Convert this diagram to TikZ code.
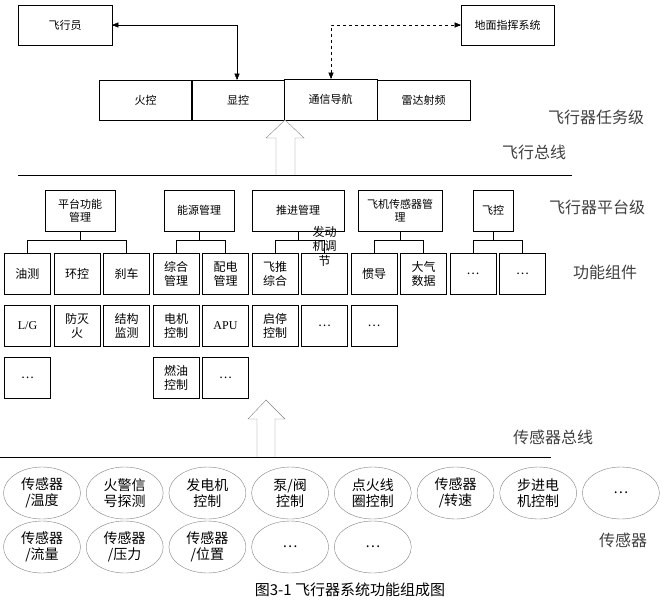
\documentclass[tikz,border=0pt]{standalone}
\usepackage{fontspec}
\setmainfont{Liberation Serif}
\newfontfamily\cjk{Noto Sans CJK SC}
\usetikzlibrary{arrows,shapes.geometric}

\begin{document}
\begin{tikzpicture}[x=1pt,y=-1pt,thick,font=\cjk\fontsize{11}{13}\selectfont]
		\tikzstyle{box}=[draw,thin,align=center,inner sep=1pt]
		\tikzstyle{comp}=[box,minimum width=46pt,minimum height=41pt,text width=40pt,font=\cjk\fontsize{12}{14}\selectfont]
		\tikzstyle{sens}=[ellipse,draw=gray,thin,minimum width=77pt,minimum height=52pt,align=center,inner sep=0pt,font=\cjk\fontsize{14}{16}\selectfont]
		\tikzstyle{lvl}=[font=\cjk\fontsize{16}{18}\selectfont,text=black!75]
		\tikzstyle{bigarrow}=[draw=gray,thin,fill=white]
		\tikzstyle{link}=[thin,>=triangle 45,<->]
		
		\useasboundingbox (0,0) rectangle (664,608);
		
		% task level
		\node[box,minimum width=94pt,minimum height=40pt] (pilot) at (65,25) {飞行员};
		\node[box,minimum width=93pt,minimum height=40pt] (ground) at (507.5,25) {地面指挥系统};
		\node[box,minimum width=93pt,minimum height=40pt] (fire) at (145.5,100) {火控};
		\node[box,minimum width=93pt,minimum height=40pt] (disp) at (238,100) {显控};
		\node[box,minimum width=93pt,minimum height=41pt] (comm) at (330.5,99.5) {通信导航};
		\node[box,minimum width=93pt,minimum height=40pt] (radar) at (423.5,100) {雷达射频};
		
		\coordinate (pk) at (237,25);
		\coordinate (gk) at (331,25);
		\draw[link] (pilot.east) -- (pk) -- (disp.north -| pk);
		\draw[link,dashed] (ground.west) -- (gk) -- (comm.north -| gk);
		
		\draw[bigarrow] (276,175) -- (276,138) -- (266,138) -- (285,120) -- (304,138) -- (295,138) -- (295,175);
		\draw[thin] (18,175) coordinate (bus1) -- (572,175);
		\node[lvl] (tasklvl) at (596,117) {飞行器任务级};
		\node[lvl] (flybus) at (534,152) {飞行总线};
		
		% platform level
		\node[box,minimum width=70pt,minimum height=41pt] (plat) at (80,210.5) {平台功能\\管理};
		\node[box,minimum width=70pt,minimum height=41pt] (power) at (199,210.5) {能源管理};
		\node[box,minimum width=92pt,minimum height=41pt] (prop) at (298,210.5) {推进管理};
		\node[box,minimum width=84pt,minimum height=41pt] (sensm) at (400,210.5) {飞机传感器管\\理};
		\node[box,minimum width=40pt,minimum height=41pt] (fctl) at (493,210.5) {飞控};
		\node[lvl] (platlvl) at (597,207) {飞行器平台级};
		\node[lvl] (funclvl) at (605,272) {功能组件};
		
		\foreach \i/\t in {0/油测,1/环控,2/刹车,3/综合\\管理,4/配电\\管理,5/飞推\\综合,6/\raisebox{9pt}[0pt][0pt]{\shortstack{发动\\机调\\节}},7/惯导,8/大气\\数据,9/\dots,10/\dots}
			\node[comp] (a\i) at (27.5+49.5*\i,274) {\t};
		\foreach \i/\t in {0/{\rmfamily L/G},1/防灭\\火,2/结构\\监测,3/电机\\控制,4/{\rmfamily APU},5/启停\\控制,6/\dots,7/\dots}
			\node[comp] (b\i) at (27.5+49.5*\i,326) {\t};
		\foreach \i/\t in {0/\dots,3/燃油\\控制,4/\dots}
			\node[comp] (c\i) at (27.5+49.5*\i,378) {\t};
		
		\foreach \p/\l/\r in {plat/a0/a2,power/a3/a4,prop/a5/a6,sensm/a7/a8,fctl/a9/a10}{
			\draw[thin] (\p.south) -- (\p.south |- 0,240);
			\draw[thin] (\l.north) -- (\l.north |- 0,240) -- (\r.north |- 0,240) -- (\r.north);
		}
		
		% sensor bus
		\draw[bigarrow] (257,457) -- (257,419) -- (248,419) -- (266,400) -- (285,419) -- (275,419) -- (275,457);
		\draw[thin] (0,457) coordinate (bus2) -- (551,457);
		\node[lvl] (senbus) at (553,437) {传感器总线};
		
		\foreach \i/\t in {0/{传感器\\/温度},1/火警信\\号探测,2/发电机\\控制,3/{泵/阀\\控制},4/点火线\\圈控制,5/{传感器\\/转速},6/步进电\\机控制,7/\dots}
			\node[sens] (s\i) at (42+82.7*\i,493) {\t};
		\foreach \i/\t in {0/{传感器\\/流量},1/{传感器\\/压力},2/{传感器\\/位置},3/\dots,4/\dots}
			\node[sens] (t\i) at (42+82.7*\i,547) {\t};
		\node[lvl] (senlbl) at (623,540) {传感器};
		
		\node[font=\cjk\fontsize{15}{17}\selectfont] (cap) at (350,590) {图3-1\ 飞行器系统功能组成图};
		
	\end{tikzpicture}
\end{document}
